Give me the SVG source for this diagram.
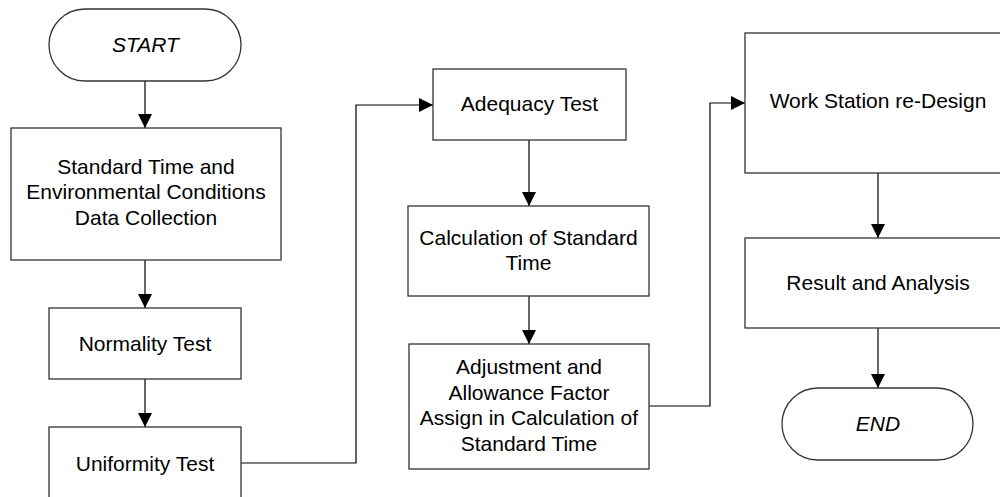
<svg xmlns="http://www.w3.org/2000/svg" width="1000" height="497" viewBox="0 0 1000 497">
<style>
.box{fill:#fff;stroke:#333;stroke-width:1.3}
.t{font-family:"Liberation Sans",Arial,sans-serif;font-size:21px;fill:#000;text-anchor:middle}
.i{font-style:italic}
.c{fill:none;stroke:#000;stroke-width:1.2}
</style>
<defs>
<marker id="ah" viewBox="0 0 14 14" refX="14" refY="7" markerWidth="14" markerHeight="14" markerUnits="userSpaceOnUse" orient="auto">
<path d="M0,0 L14,7 L0,14 z" fill="#000"/>
</marker>
</defs>
<rect width="1000" height="497" fill="#fff"/>
<g id="connectors">
<path class="c" d="M145,81 V128" marker-end="url(#ah)"/>
<path class="c" d="M145,260 V308" marker-end="url(#ah)"/>
<path class="c" d="M145,379 V427" marker-end="url(#ah)"/>
<path class="c" d="M241,463 H356 V105 H433" marker-end="url(#ah)"/>
<path class="c" d="M529,140 V206" marker-end="url(#ah)"/>
<path class="c" d="M529,296 V344" marker-end="url(#ah)"/>
<path class="c" d="M649,406 H710 V103 H745" marker-end="url(#ah)"/>
<path class="c" d="M878,173 V238" marker-end="url(#ah)"/>
<path class="c" d="M878,328 V388" marker-end="url(#ah)"/>
</g>
<g id="start">
<rect class="box" x="49" y="9" width="192" height="72" rx="36" ry="36"/>
<text class="t i" x="145.5" y="52">START</text>
</g>
<g id="data-collection">
<rect class="box" x="11" y="128" width="270" height="132"/>
<text class="t" x="146" y="174">Standard Time and</text>
<text class="t" x="146" y="199">Environmental Conditions</text>
<text class="t" x="146" y="225">Data Collection</text>
</g>
<g id="normality">
<rect class="box" x="49" y="308" width="192" height="71"/>
<text class="t" x="145" y="351">Normality Test</text>
</g>
<g id="uniformity">
<rect class="box" x="49" y="427" width="192" height="80"/>
<text class="t" x="145" y="471">Uniformity Test</text>
</g>
<g id="adequacy">
<rect class="box" x="433" y="69" width="193" height="71"/>
<text class="t" x="529.5" y="111">Adequacy Test</text>
</g>
<g id="calculation">
<rect class="box" x="408" y="206" width="241" height="90"/>
<text class="t" x="528.5" y="245">Calculation of Standard</text>
<text class="t" x="528.5" y="270">Time</text>
</g>
<g id="adjustment">
<rect class="box" x="409" y="344" width="240" height="125"/>
<text class="t" x="529" y="374">Adjustment and</text>
<text class="t" x="529" y="399.5">Allowance Factor</text>
<text class="t" x="529" y="425">Assign in Calculation of</text>
<text class="t" x="529" y="450.5">Standard Time</text>
</g>
<g id="workstation">
<rect class="box" x="745" y="33" width="266" height="140"/>
<text class="t" x="878" y="108">Work Station re-Design</text>
</g>
<g id="result">
<rect class="box" x="745" y="238" width="266" height="90"/>
<text class="t" x="878" y="290">Result and Analysis</text>
</g>
<g id="end">
<rect class="box" x="782" y="388" width="191" height="72" rx="36" ry="36"/>
<text class="t i" x="878" y="431">END</text>
</g>
</svg>
